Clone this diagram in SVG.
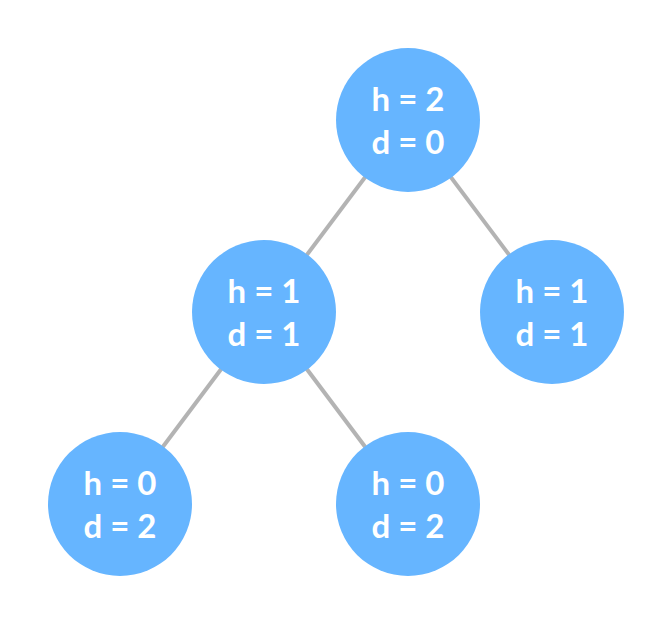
<svg xmlns="http://www.w3.org/2000/svg" width="672" height="624" viewBox="0 0 672 624">
<style>
.n circle{fill:#66b5ff}
.n text{fill:#fff;font-family:Lato,"Liberation Sans",sans-serif;font-weight:bold;font-size:33px;text-anchor:middle}
#edges line{stroke:#b3b3b3;stroke-width:4}
</style>
<rect width="672" height="624" fill="#fff"/>
<g id="edges">
<line x1="408" y1="120" x2="264" y2="312"/>
<line x1="408" y1="120" x2="552" y2="312"/>
<line x1="264" y1="312" x2="120" y2="504"/>
<line x1="264" y1="312" x2="408" y2="504"/>
</g>
<g id="root" class="n"><circle cx="408" cy="120" r="72"/><text x="408" y="111">h = 2</text><text x="408" y="154">d = 0</text></g>
<g id="left" class="n"><circle cx="264" cy="312" r="72"/><text x="264" y="303">h = 1</text><text x="264" y="346">d = 1</text></g>
<g id="right" class="n"><circle cx="552" cy="312" r="72"/><text x="552" y="303">h = 1</text><text x="552" y="346">d = 1</text></g>
<g id="ll" class="n"><circle cx="120" cy="504" r="72"/><text x="120" y="495">h = 0</text><text x="120" y="538">d = 2</text></g>
<g id="lr" class="n"><circle cx="408" cy="504" r="72"/><text x="408" y="495">h = 0</text><text x="408" y="538">d = 2</text></g>
</svg>
